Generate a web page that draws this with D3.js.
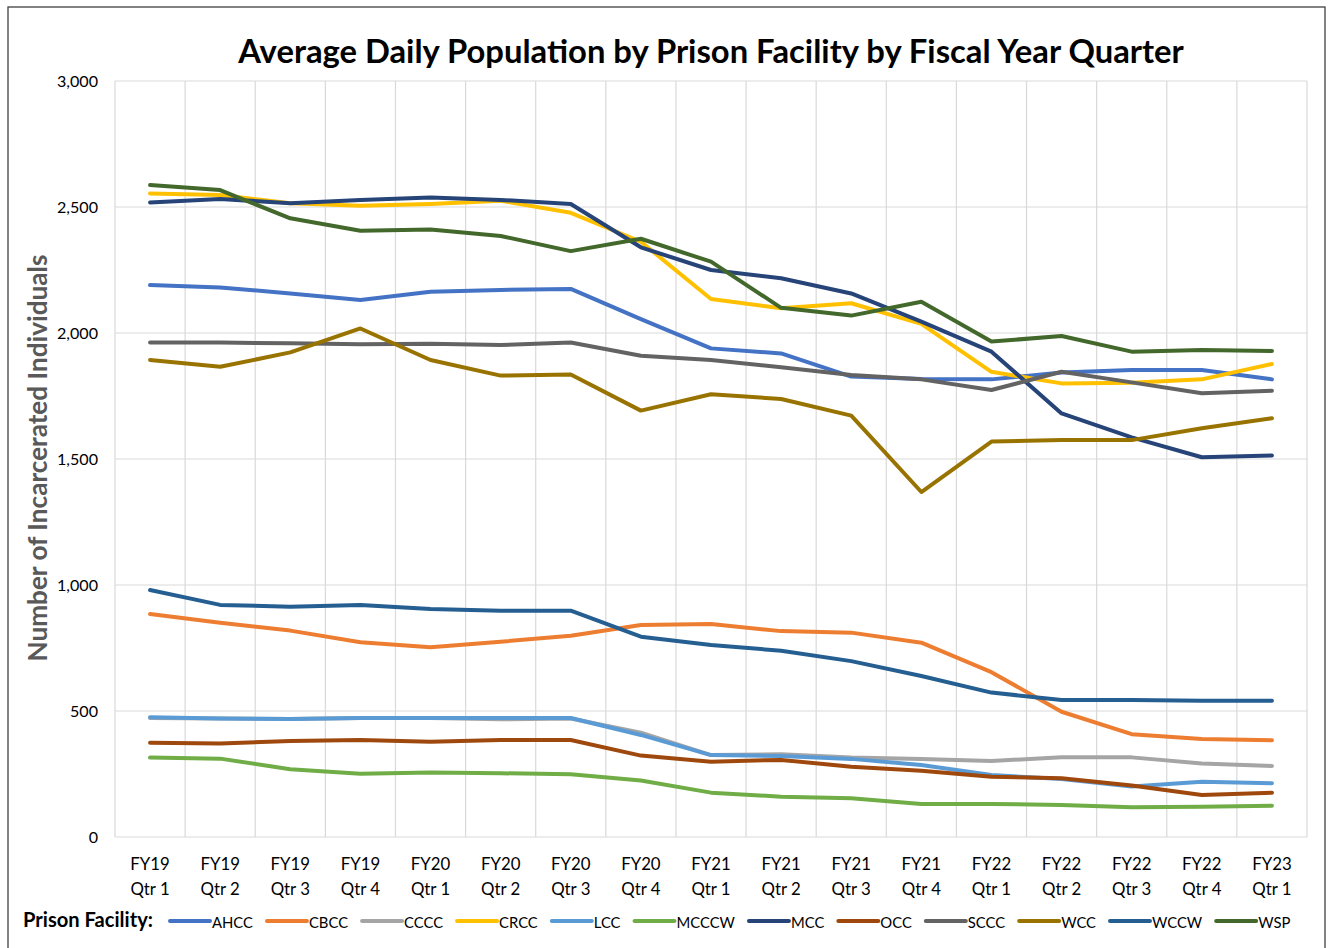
<!DOCTYPE html>
<html><head><meta charset="utf-8">
<script src="https://cdn.jsdelivr.net/npm/d3@7"></script>
<style>html,body{margin:0;padding:0;background:#fff;}svg{display:block;}</style>
</head><body>
<svg id="chart" width="1331" height="948"></svg>
<script>
const quarters = ["FY19 Qtr 1","FY19 Qtr 2","FY19 Qtr 3","FY19 Qtr 4","FY20 Qtr 1","FY20 Qtr 2","FY20 Qtr 3","FY20 Qtr 4","FY21 Qtr 1","FY21 Qtr 2","FY21 Qtr 3","FY21 Qtr 4","FY22 Qtr 1","FY22 Qtr 2","FY22 Qtr 3","FY22 Qtr 4","FY23 Qtr 1"];
const facilities = ["AHCC","CBCC","CCCC","CRCC","LCC","MCCCW","MCC","OCC","SCCC","WCC","WCCW","WSP"];
const AHCC  = [2190,2181,2157,2131,2164,2171,2175,2055,1939,1919,1827,1817,1816,1843,1853,1853,1816];
const CBCC  = [885,850,819,773,753,775,799,841,845,817,811,771,654,497,408,389,384];
const CCCC  = [472,470,468,472,472,467,470,414,325,328,315,310,302,316,316,292,282];
const CRCC  = [2554,2548,2515,2505,2512,2525,2477,2362,2135,2098,2118,2036,1846,1800,1803,1816,1877];
const LCC   = [475,470,468,472,472,472,472,405,325,321,310,286,246,230,200,219,213];
const MCCCW = [315,311,269,251,256,253,249,224,176,160,154,131,131,127,118,120,124];
const MCC   = [2518,2532,2515,2528,2538,2528,2512,2340,2250,2217,2157,2045,1926,1681,1586,1507,1514];
const OCC   = [374,371,381,385,378,385,385,323,299,306,279,263,239,233,204,167,176];
const SCCC  = [1962,1962,1959,1955,1957,1952,1962,1910,1893,1864,1833,1816,1774,1846,1804,1761,1771];
const WCC   = [1893,1866,1923,2018,1893,1831,1835,1692,1757,1738,1672,1369,1569,1575,1575,1622,1662];
const WCCW  = [980,921,914,921,905,898,898,795,762,739,698,639,573,544,544,541,541];
const WSP   = [2587,2567,2455,2406,2411,2385,2325,2374,2283,2100,2069,2124,1966,1988,1926,1933,1929];
const yTicks = [0,500,1000,1500,2000,2500,3000];
const colors = ["#4472C4","#ED7D31","#A5A5A5","#FFC000","#5B9BD5","#70AD47","#264478","#9E480E","#636363","#997300","#255E91","#43682B"];

const seriesValues = [AHCC,CBCC,CCCC,CRCC,LCC,MCCCW,MCC,OCC,SCCC,WCC,WCCW,WSP];
const series = facilities.map((f,i)=>({name:f, color:colors[i], values:seriesValues[i]}));

const FONT = "Lato, 'Open Sans', sans-serif";
const svg = d3.select("#chart");
const L=115, R=1307, T=81, B=837;

// border
svg.append("rect").attr("x",8).attr("y",7).attr("width",1317).attr("height",960)
  .attr("fill","none").attr("stroke","#404040").attr("stroke-width",1.3);

const xBand = d3.scaleBand().domain(quarters).range([L,R]).padding(0);
const xPt = d => xBand(d)+xBand.bandwidth()/2;
const y = d3.scaleLinear().domain([0,3000]).range([B,T]);

function measure(text, size, weight){
  const t = svg.append("text").attr("font-family",FONT).attr("font-size",size).attr("font-weight",weight||"normal").text(text);
  const w = t.node().getComputedTextLength(); t.remove(); return w;
}
const sizeFor = (text, target, weight) => 100*target/measure(text,100,weight);

// grid
const g = svg.append("g");
g.selectAll("line.h").data(yTicks).join("line")
  .attr("x1",L).attr("x2",R).attr("y1",d=>y(d)).attr("y2",d=>y(d))
  .attr("stroke","#D9D9D9").attr("stroke-width",1.2);
g.selectAll("line.v").data(quarters.concat(["__end"])).join("line")
  .attr("x1",(d,i)=> i<quarters.length? xBand(d): R).attr("x2",(d,i)=> i<quarters.length? xBand(d): R)
  .attr("y1",T).attr("y2",B).attr("stroke","#D9D9D9").attr("stroke-width",1.2);

// y axis labels
const yTickSize = sizeFor("2,000",41);
const yAxis = svg.append("g").attr("transform",`translate(${L},0)`)
  .call(d3.axisLeft(y).tickValues(yTicks).tickFormat(d3.format(",")).tickSize(0).tickPadding(17));
yAxis.select(".domain").remove();
yAxis.selectAll("text").attr("font-family",FONT).attr("font-size",yTickSize).attr("fill","#000");

// x axis labels
const xTickSize = sizeFor("FY19",39.5);
const xAxis = svg.append("g").attr("transform",`translate(0,${B})`)
  .call(d3.axisBottom(xBand).tickSize(0).tickFormat(""));
xAxis.select(".domain").remove();
xAxis.selectAll(".tick").each(function(d){
  const parts = d.split(" ");
  const t = d3.select(this).append("text").attr("font-family",FONT).attr("font-size",xTickSize)
    .attr("fill","#000").attr("text-anchor","middle");
  t.append("tspan").attr("x",0).attr("y",26).attr("dominant-baseline","central").text(parts[0]);
  t.append("tspan").attr("x",0).attr("y",51).attr("dominant-baseline","central").text(parts[1]+" "+parts[2]);
});

// lines
const line = d3.line().x((d,i)=>xPt(quarters[i])).y(d=>y(d));
svg.append("g").selectAll("path").data(series).join("path")
  .attr("d",d=>line(d.values)).attr("fill","none").attr("stroke",d=>d.color)
  .attr("stroke-width",4).attr("stroke-linejoin","round").attr("stroke-linecap","round");

// title
const title = "Average Daily Population by Prison Facility by Fiscal Year Quarter";
svg.append("text").attr("x",711).attr("y",50).attr("text-anchor","middle").attr("dominant-baseline","central")
  .attr("font-family",FONT).attr("font-weight","bold").attr("font-size",sizeFor(title,946,"bold"))
  .attr("fill","#000").text(title);

// y title
const ytitle = "Number of Incarcerated Individuals";
svg.append("text").attr("transform","translate(37,458) rotate(-90)").attr("text-anchor","middle")
  .attr("dominant-baseline","central").attr("font-family",FONT).attr("font-weight","bold")
  .attr("font-size",sizeFor(ytitle,407,"bold")).attr("fill","#595959").text(ytitle);

// legend
const legY = 921;
const legTitle = "Prison Facility:";
svg.append("text").attr("x",23).attr("y",legY-2).attr("dominant-baseline","central")
  .attr("font-family",FONT).attr("font-weight","bold").attr("font-size",sizeFor(legTitle,130,"bold"))
  .attr("fill","#000").text(legTitle);
const legSize = sizeFor("AHCC",41);
let lx = 170;
series.forEach(s=>{
  svg.append("line").attr("x1",lx).attr("x2",lx+40).attr("y1",legY).attr("y2",legY)
    .attr("stroke",s.color).attr("stroke-width",4).attr("stroke-linecap","round");
  const t = svg.append("text").attr("x",lx+42).attr("y",legY+1).attr("dominant-baseline","central")
    .attr("font-family",FONT).attr("font-size",legSize).attr("fill","#000").text(s.name);
  lx += 42 + t.node().getComputedTextLength() + 14;
});
</script>
</body></html>
